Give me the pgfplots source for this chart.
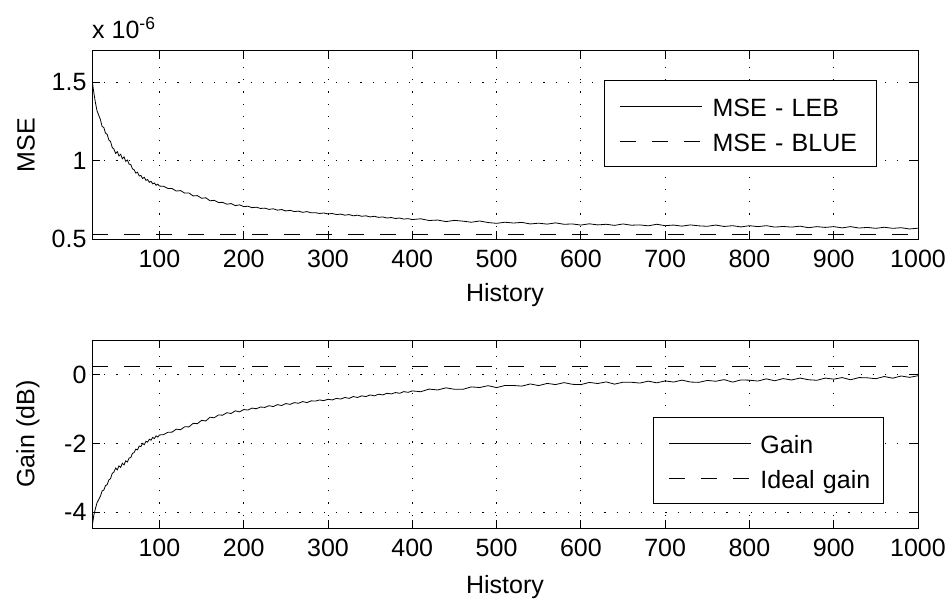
\documentclass[border=0pt]{standalone}
\usepackage{fontspec}
\setmainfont{Liberation Sans}
\usepackage{pgfplots}
\usepackage{pgfplotstable}
\pgfplotsset{compat=1.18}

% MSE of the LEB estimator (units of 1e-6) versus history length
\pgfplotstableread[row sep=\\]{
x y\\
20 1.520\\ 22 1.440\\ 24 1.372\\ 26 1.318\\ 28 1.290\\ 30 1.262\\ 32 1.218\\ 34 1.212\\
36 1.176\\ 38 1.168\\ 40 1.132\\ 42 1.122\\ 44 1.084\\ 46 1.074\\ 48 1.046\\ 50 1.058\\
52 1.030\\ 54 1.041\\ 56 1.012\\ 58 1.024\\ 60 0.996\\ 62 1.004\\ 64 0.978\\ 66 0.975\\
68 0.948\\ 70 0.942\\ 72 0.921\\ 74 0.926\\ 76 0.902\\ 78 0.906\\ 80 0.886\\ 82 0.894\\
84 0.874\\ 86 0.879\\ 88 0.862\\ 90 0.868\\ 92 0.852\\ 94 0.858\\ 96 0.843\\ 98 0.850\\
100 0.838\\ 105 0.836\\ 110 0.823\\ 115 0.822\\ 120 0.806\\ 125 0.809\\ 130 0.793\\ 135 0.794\\
140 0.775\\ 145 0.777\\ 150 0.760\\ 155 0.763\\ 160 0.744\\ 165 0.747\\ 170 0.733\\ 175 0.734\\
180 0.722\\ 185 0.726\\ 190 0.713\\ 195 0.718\\ 200 0.707\\ 205 0.709\\ 210 0.700\\ 215 0.703\\
220 0.695\\ 225 0.697\\ 230 0.689\\ 235 0.693\\ 240 0.684\\ 245 0.688\\ 250 0.679\\ 255 0.683\\
260 0.675\\ 265 0.678\\ 270 0.670\\ 275 0.675\\ 280 0.667\\ 285 0.668\\ 290 0.663\\ 295 0.666\\
300 0.660\\ 305 0.663\\ 310 0.656\\ 315 0.659\\ 320 0.652\\ 325 0.656\\ 330 0.648\\ 335 0.652\\
340 0.645\\ 345 0.648\\ 350 0.641\\ 355 0.645\\ 360 0.638\\ 365 0.641\\ 370 0.634\\ 375 0.637\\
380 0.631\\ 385 0.634\\ 390 0.627\\ 395 0.630\\ 400 0.624\\ 410 0.629\\ 420 0.618\\ 430 0.621\\
440 0.611\\ 450 0.619\\ 460 0.614\\ 470 0.607\\ 480 0.615\\ 490 0.605\\ 500 0.600\\ 510 0.607\\
520 0.602\\ 530 0.606\\ 540 0.596\\ 550 0.601\\ 560 0.595\\ 570 0.603\\ 580 0.594\\ 590 0.596\\
600 0.589\\ 610 0.597\\ 620 0.590\\ 630 0.594\\ 640 0.587\\ 650 0.596\\ 660 0.588\\ 670 0.590\\
680 0.584\\ 690 0.594\\ 700 0.585\\ 710 0.589\\ 720 0.582\\ 730 0.590\\ 740 0.584\\ 750 0.581\\
760 0.589\\ 770 0.580\\ 780 0.585\\ 790 0.577\\ 800 0.585\\ 810 0.579\\ 820 0.585\\ 830 0.576\\
840 0.580\\ 850 0.576\\ 860 0.582\\ 870 0.572\\ 880 0.579\\ 890 0.574\\ 900 0.579\\ 910 0.571\\
920 0.579\\ 930 0.570\\ 940 0.574\\ 950 0.568\\ 960 0.575\\ 970 0.568\\ 980 0.572\\ 990 0.564\\
1000 0.569\\
}\msedata

% Gain (dB) of the LEB estimator versus history length
\pgfplotstableread[row sep=\\]{
x y\\
20 -4.450\\ 22 -4.110\\ 24 -3.900\\ 26 -3.725\\ 28 -3.632\\ 30 -3.537\\ 32 -3.383\\ 34 -3.361\\
36 -3.230\\ 38 -3.200\\ 40 -3.064\\ 42 -3.026\\ 44 -2.876\\ 46 -2.836\\ 48 -2.721\\ 50 -2.771\\
52 -2.654\\ 54 -2.701\\ 56 -2.578\\ 58 -2.629\\ 60 -2.509\\ 62 -2.543\\ 64 -2.429\\ 66 -2.416\\
68 -2.294\\ 70 -2.267\\ 72 -2.169\\ 74 -2.192\\ 76 -2.078\\ 78 -2.097\\ 80 -2.000\\ 82 -2.039\\
84 -1.941\\ 86 -1.966\\ 88 -1.881\\ 90 -1.911\\ 92 -1.830\\ 94 -1.861\\ 96 -1.784\\ 98 -1.820\\
100 -1.758\\ 105 -1.748\\ 110 -1.680\\ 115 -1.675\\ 120 -1.589\\ 125 -1.605\\ 130 -1.519\\ 135 -1.524\\
140 -1.419\\ 145 -1.430\\ 150 -1.334\\ 155 -1.351\\ 160 -1.242\\ 165 -1.259\\ 170 -1.177\\ 175 -1.183\\
180 -1.111\\ 185 -1.135\\ 190 -1.057\\ 195 -1.087\\ 200 -1.020\\ 205 -1.033\\ 210 -0.977\\ 215 -0.996\\
220 -0.946\\ 225 -0.958\\ 230 -0.908\\ 235 -0.933\\ 240 -0.877\\ 245 -0.902\\ 250 -0.845\\ 255 -0.870\\
260 -0.819\\ 265 -0.838\\ 270 -0.787\\ 275 -0.819\\ 280 -0.767\\ 285 -0.774\\ 290 -0.741\\ 295 -0.761\\
300 -0.721\\ 305 -0.741\\ 310 -0.695\\ 315 -0.715\\ 320 -0.669\\ 325 -0.695\\ 330 -0.642\\ 335 -0.669\\
340 -0.622\\ 345 -0.642\\ 350 -0.595\\ 355 -0.622\\ 360 -0.574\\ 365 -0.595\\ 370 -0.547\\ 375 -0.567\\
380 -0.526\\ 385 -0.547\\ 390 -0.499\\ 395 -0.520\\ 400 -0.478\\ 410 -0.502\\ 420 -0.425\\ 430 -0.451\\
440 -0.389\\ 450 -0.431\\ 460 -0.433\\ 470 -0.362\\ 480 -0.380\\ 490 -0.326\\ 500 -0.383\\ 510 -0.320\\
520 -0.321\\ 530 -0.339\\ 540 -0.276\\ 550 -0.324\\ 560 -0.261\\ 570 -0.294\\ 580 -0.238\\ 590 -0.287\\
600 -0.296\\ 610 -0.232\\ 620 -0.264\\ 630 -0.217\\ 640 -0.282\\ 650 -0.226\\ 660 -0.227\\ 670 -0.251\\
680 -0.195\\ 690 -0.244\\ 700 -0.188\\ 710 -0.221\\ 720 -0.165\\ 730 -0.221\\ 740 -0.230\\ 750 -0.174\\
760 -0.198\\ 770 -0.151\\ 780 -0.223\\ 790 -0.159\\ 800 -0.167\\ 810 -0.192\\ 820 -0.128\\ 830 -0.184\\
840 -0.121\\ 850 -0.161\\ 860 -0.105\\ 870 -0.154\\ 880 -0.170\\ 890 -0.106\\ 900 -0.138\\ 910 -0.091\\
920 -0.155\\ 930 -0.091\\ 940 -0.099\\ 950 -0.124\\ 960 -0.060\\ 970 -0.109\\ 980 -0.045\\ 990 -0.085\\
1000 -0.038\\
}\gaindata

\newcommand{\bigfont}{\fontsize{25}{29}\selectfont}

\pgfplotsset{
  matlabaxis/.style={
    scale only axis, width=826pt, height=188pt,
    xmin=20, xmax=1000,
    xtick={100,200,300,400,500,600,700,800,900,1000},
    xticklabels={100,200,300,400,500,600,700,800,900,1000},
    tick align=inside, tick pos=both,
    major tick length=8pt,
    every tick/.style={black, line width=0.8pt},
    axis line style={black, line width=1pt},
    grid=major,
    major grid style={black, line width=0.8pt, dash pattern=on 1.2pt off 11pt},
    tick label style={font=\bigfont},
    label style={font=\bigfont},
    xticklabel style={yshift=-8pt},
    yticklabel style={xshift=-2pt},
    xlabel={History},
    legend cell align=left,
    clip mode=individual,
  },
  legendbox/.style={
    legend style={draw=black, line width=1pt, fill=white,
      inner xsep=0pt, inner ysep=11.5pt, row sep=7pt, column sep=0pt,
      font=\bigfont,
      nodes={inner sep=0pt, text height=24pt, text depth=4pt, text width=#1, align=left}},
  },
}

\begin{document}
\begin{tikzpicture}
\path[use as bounding box] (0pt,0pt) rectangle (949pt,600pt);

% upper panel: mean squared error
\begin{axis}[matlabaxis,
  at={(92pt,361pt)}, anchor=south west,
  ymin=0.5, ymax=1.7,
  ytick={0.5,1,1.5}, yticklabels={0.5,1,1.5},
  ylabel={MSE},
  ylabel style={at={(axis description cs:-0.080,0.5)}, anchor=center},
  xlabel style={at={(axis description cs:0.5,-0.33)}, anchor=base},
  legendbox=164pt,
  legend style={at={(axis description cs:0.9504,0.8457)}, anchor=north east},
  legend image code/.code={\draw[#1] (15pt,0pt) -- (97pt,0pt); \path[draw=none] (0pt,0pt) -- (108pt,0pt);},
]
\addplot[black, line width=0.8pt] table[x=x, y=y] {\msedata};
\addlegendentry{MSE - LEB}
\addplot[black, line width=0.8pt, dash pattern=on 16pt off 16pt] coordinates {(20,0.53) (1000,0.53)};
\addlegendentry{MSE - BLUE}
\node[anchor=base west, inner sep=0pt, font=\bigfont] at (rel axis cs:0,1) [yshift=12pt] {x 10\textsuperscript{-6}};
\end{axis}

% lower panel: gain in dB
\begin{axis}[matlabaxis,
  at={(92pt,72pt)}, anchor=south west,
  ymin=-4.46, ymax=1,
  ytick={-4,-2,0}, yticklabels={-4,-2,0},
  ylabel={Gain (dB)},
  ylabel style={at={(axis description cs:-0.0775,0.5)}, anchor=center},
  xlabel style={at={(axis description cs:0.5,-0.351)}, anchor=base},
  legendbox=123pt,
  legend style={at={(axis description cs:0.9588,0.5904)}, anchor=north east},
  legend image code/.code={\draw[#1] (16pt,0pt) -- (98pt,0pt); \path[draw=none] (0pt,0pt) -- (107pt,0pt);},
]
\addplot[black, line width=0.8pt] table[x=x, y=y] {\gaindata};
\addlegendentry{Gain}
\addplot[black, line width=0.8pt, dash pattern=on 16pt off 16pt] coordinates {(20,0.235) (1000,0.235)};
\addlegendentry{Ideal gain}
\end{axis}
\end{tikzpicture}
\end{document}
